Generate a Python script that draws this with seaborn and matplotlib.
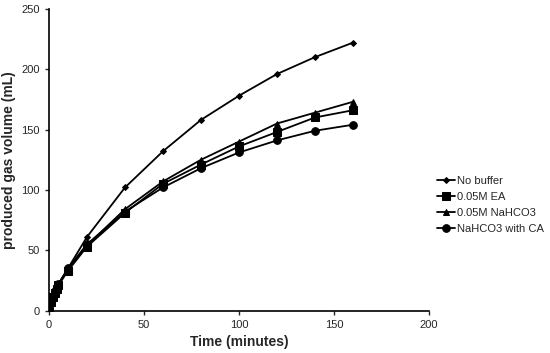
import pandas as pd
import matplotlib
matplotlib.use("Agg")
import matplotlib.pyplot as plt
import seaborn as sns

# data
time = [0, 1, 2, 3, 4, 5, 10, 20, 40, 60, 80, 100, 120, 140, 160]
no_buffer = [0, 8, 12, 17, 20, 22, 35, 61, 102, 132, 158, 178, 196, 210, 222]
ea = [0, 7, 11, 15, 18, 21, 33, 53, 81, 105, 121, 136, 148, 160, 166]
nahco3 = [0, 7, 12, 16, 19, 22, 34, 54, 84, 107, 125, 140, 155, 164, 173]
with_ca = [0, 8, 12, 16, 19, 22, 35, 55, 82, 102, 118, 131, 141, 149, 154]
labels = ["No buffer", "0.05M EA", "0.05M NaHCO3", "NaHCO3 with CA"]

df = pd.concat([
    pd.DataFrame({"time": time, "vol": v, "series": name})
    for name, v in zip(labels, [no_buffer, ea, nahco3, with_ca])
])

sns.set_style("white")
plt.rcParams["font.family"] = ["Liberation Sans", "DejaVu Sans"]

fig, ax = plt.subplots(figsize=(5.5, 3.53), dpi=100)
markers = {"No buffer": "D", "0.05M EA": "s", "0.05M NaHCO3": "^", "NaHCO3 with CA": "o"}
sizes = {"No buffer": 3, "0.05M EA": 5.5, "0.05M NaHCO3": 5, "NaHCO3 with CA": 5.5}
for name in labels:
    sub = df[df["series"] == name]
    sns.lineplot(data=sub, x="time", y="vol", ax=ax, color="black", marker=markers[name],
                 markersize=sizes[name], linewidth=1.3, label=name, markeredgecolor="black")

ax.set_xlim(0, 200)
ax.set_ylim(0, 250)
ax.set_xticks([0, 50, 100, 150, 200])
ax.set_yticks([0, 50, 100, 150, 200, 250])
ax.tick_params(axis="both", labelsize=8, direction="out", length=3, width=1, left=True, bottom=True)
for s in ["top", "right"]:
    ax.spines[s].set_visible(False)
for s in ["left", "bottom"]:
    ax.spines[s].set_color("black")
    ax.spines[s].set_linewidth(1.2)
ax.set_xlabel("Time (minutes)", fontsize=10, fontweight="bold")
ax.set_ylabel("produced gas volume (mL)", fontsize=10, fontweight="bold")
ax.legend(frameon=False, fontsize=8, loc="center left", bbox_to_anchor=(1.0, 0.35),
          handlelength=1.6, handletextpad=0.2, labelspacing=0.55, borderaxespad=0.3)

fig.subplots_adjust(left=0.089, right=0.78, top=0.975, bottom=0.12)
fig.savefig("out.png", dpi=100)
